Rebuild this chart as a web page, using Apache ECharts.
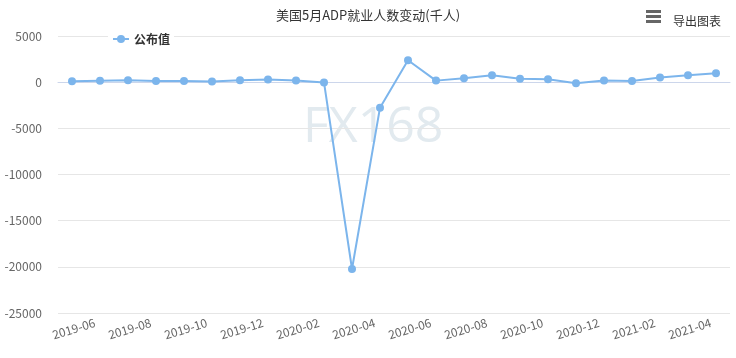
<!DOCTYPE html>
<html><head><meta charset="utf-8">
<script src="https://cdn.jsdelivr.net/npm/echarts@6/dist/echarts.min.js"></script>
<style>html,body{margin:0;padding:0;background:#fff}#c{width:736px;height:358px}</style>
</head><body><div id="c"></div>
<script>
const categories = ['2019-06','2019-07','2019-08','2019-09','2019-10','2019-11','2019-12','2020-01','2020-02','2020-03','2020-04','2020-05','2020-06','2020-07','2020-08','2020-09','2020-10','2020-11','2020-12','2021-01','2021-02','2021-03','2021-04','2021-05'];
const values = [102,156,195,135,125,67,202,291,183,-27,-20236,-2760,2369,167,428,749,365,307,-123,174,117,517,742,978];
const yTicks = {min:-25000, max:5000, interval:5000};
const chart = echarts.init(document.getElementById('c'));
const F = '"Microsoft YaHei","Noto Sans CJK SC","Noto Sans",sans-serif';
chart.setOption({
  animation:false,
  title:{text:'美国5月ADP就业人数变动(千人)', left:'center', top:4,
    textStyle:{fontSize:13, fontWeight:'normal', color:'#333', fontFamily:F}},
  legend:{data:['公布值'], left:108, top:31, itemWidth:16, itemHeight:10, itemGap:6,
    backgroundColor:'#fff', padding:[2,4],
    textStyle:{fontSize:12, fontWeight:'bold', color:'#333', fontFamily:F}},
  graphic:[
    {type:'text', left:303, top:103, style:{text:'FX168', fontSize:50, fill:'#e2eaef', fontFamily:'"Open Sans","Noto Sans",sans-serif'}, z:-1},
    {type:'rect', left:646, top:10, shape:{width:15, height:3}, style:{fill:'#666'}},
    {type:'rect', left:646, top:15, shape:{width:15, height:3}, style:{fill:'#666'}},
    {type:'rect', left:646, top:20, shape:{width:15, height:3}, style:{fill:'#666'}},
    {type:'text', left:673, top:15, style:{text:'导出图表', fontSize:12, fill:'#333', fontFamily:F}}
  ],
  grid:{left:58, right:6, top:36, bottom:45},
  xAxis:{type:'category', data:categories, boundaryGap:true,
    axisLine:{lineStyle:{color:'#ccd6eb'}}, axisTick:{show:false},
    axisLabel:{interval:1, rotate:17, align:'center', verticalAlign:'top', color:'#666', fontSize:12, margin:10, fontFamily:F}},
  yAxis:{type:'value', min:yTicks.min, max:yTicks.max, interval:yTicks.interval,
    axisLine:{show:false}, axisTick:{show:false},
    splitLine:{lineStyle:{color:'#e6e6e6'}},
    axisLabel:{color:'#666', fontSize:12, margin:16, fontFamily:F, formatter:v=>String(v)}},
  series:[{name:'公布值', type:'line', data:values, symbol:'circle', symbolSize:8,
    itemStyle:{color:'#7cb5ec'}, lineStyle:{width:2, color:'#7cb5ec'}}]
});
</script></body></html>
